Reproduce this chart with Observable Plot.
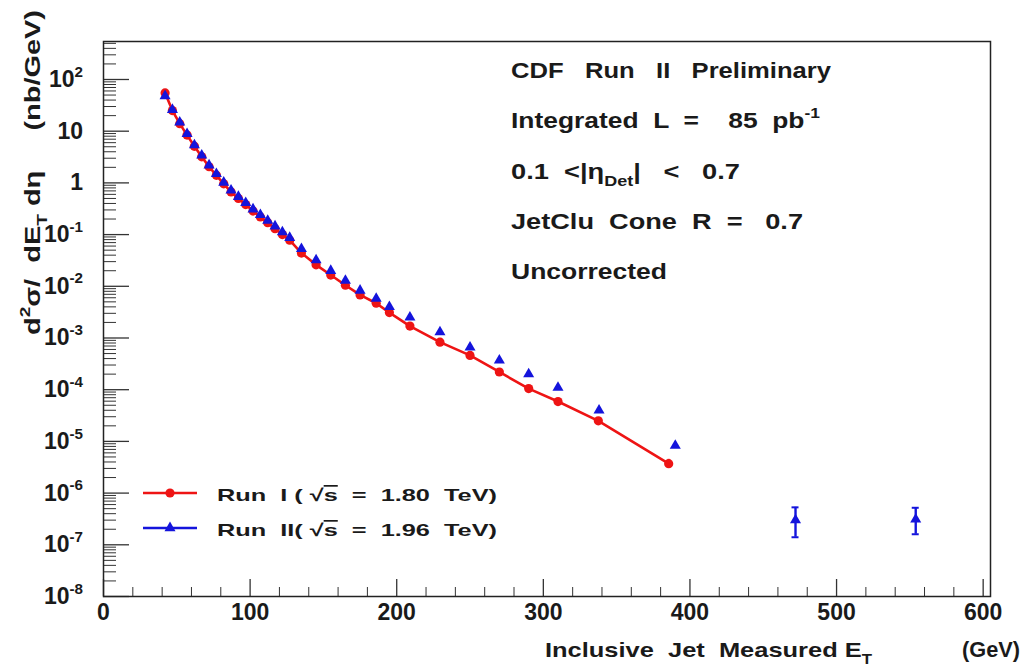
<!DOCTYPE html>
<html>
<head>
<meta charset="utf-8">
<script src="https://cdn.jsdelivr.net/npm/d3@7"></script>
<script src="https://cdn.jsdelivr.net/npm/@observablehq/plot@0.6"></script>
<style>
  html, body { margin: 0; padding: 0; background: #fff; }
  #chart { width: 1022px; height: 667px; }
  svg text { font-family: "Liberation Sans", Arial, Helvetica, sans-serif; font-weight: bold; fill: #1a1a1a; }
</style>
</head>
<body>
<div id="chart"></div>
<script>
// Inclusive jet cross section, CDF Run II (1.96 TeV) compared with Run I (1.80 TeV)

// Run II points: jet ET (GeV) and d2sigma/dET deta (nb/GeV)
const run2Et = [42, 47, 52, 57, 62, 67, 72, 77, 82, 87, 92, 97, 102, 107, 112, 117, 122, 127,
                135, 145, 155, 165, 175, 186, 195, 209, 229.5, 250, 270, 290, 310, 338, 390, 472, 554];
const run2Xs = [48, 26, 14.8, 8.9, 5.4, 3.4, 2.2, 1.5, 1.02, 0.72, 0.54, 0.41, 0.31, 0.24, 0.186, 0.145, 0.112, 0.087,
                0.053, 0.032, 0.020, 0.0129, 0.0083, 0.0058, 0.0040, 0.0025, 1.3e-3, 6.6e-4, 3.7e-4, 2.0e-4, 1.1e-4, 4.0e-5, 8.3e-6, 3.0e-7, 3.1e-7];
// Run II error bars shown on the last bins
const run2ErrEt = [472, 554];
const run2ErrLo = [1.4e-7, 1.6e-7];
const run2ErrHi = [5.3e-7, 5.2e-7];

// Run I points
const run1Et = [42, 47, 52, 57, 62, 67, 72, 77, 82, 87, 92, 97, 102, 107, 112, 117, 122, 127,
                135, 145, 155, 165, 175, 186, 195, 209, 229.5, 250, 270, 290, 310, 337.5, 385.5];
const run1Xs = [55, 25, 14, 8.4, 5.1, 3.2, 2.05, 1.4, 0.96, 0.67, 0.50, 0.38, 0.285, 0.22, 0.17, 0.13, 0.10, 0.078,
                0.044, 0.026, 0.0165, 0.0105, 0.0068, 0.0047, 0.0031, 0.0017, 8.3e-4, 4.6e-4, 2.2e-4, 1.05e-4, 5.9e-5, 2.5e-5, 3.7e-6];
const run1ErrEt = [385.5];
const run1ErrLo = [3.0e-6];
const run1ErrHi = [4.5e-6];

// Axis ticks and labels
const xTickValues = [0, 100, 200, 300, 400, 500, 600];
const xTickLabels = ["0", "100", "200", "300", "400", "500", "600"];
const xMinorValues = d3.range(0, 601, 20).filter(v => v % 100 !== 0);
const yTickValues = [1e2, 1e1, 1, 1e-1, 1e-2, 1e-3, 1e-4, 1e-5, 1e-6, 1e-7, 1e-8];
const yTickBase = ["10", "10", "1", "10", "10", "10", "10", "10", "10", "10", "10"];
const yTickExp  = ["2", "", "", "-1", "-2", "-3", "-4", "-5", "-6", "-7", "-8"];
const yMaxValue = 543;
const yMinorValues = d3.range(-8, 3).flatMap(e => d3.range(2, 10).map(k => k * Math.pow(10, e))).filter(v => v < yMaxValue);

const RED = "#ee1414";
const BLUE = "#1414dc";

const W = 1022, H = 667;
const mL = 103, mR = 32, mT = 41, mB = 71;
const fw = W - mL - mR, fh = H - mT - mB;

const run2 = run2Et.map((et, i) => ({et, xs: run2Xs[i]}));
const run1 = run1Et.map((et, i) => ({et, xs: run1Xs[i]}));
const run2Err = run2ErrEt.map((et, i) => ({et, lo: run2ErrLo[i], hi: run2ErrHi[i]}));
const run1Err = run1ErrEt.map((et, i) => ({et, lo: run1ErrLo[i], hi: run1ErrHi[i]}));
const run2Caps = run2Err.flatMap(d => [{et: d.et, y: d.lo}, {et: d.et, y: d.hi}]);

const plot = Plot.plot({
  width: W, height: H,
  marginLeft: mL, marginRight: mR, marginTop: mT, marginBottom: mB,
  style: {background: "#fff", overflow: "visible"},
  x: {domain: [0, 605], axis: null},
  y: {type: "log", domain: [1e-8, yMaxValue], axis: null},
  marks: [
    Plot.tickY(yMinorValues, {y: d => d, insetRight: fw - 13, stroke: "#333", strokeWidth: 1}),
    Plot.tickY(yTickValues, {y: d => d, insetRight: fw - 26, stroke: "#333", strokeWidth: 1.3}),
    Plot.tickX(xMinorValues, {x: d => d, insetTop: fh - 9, stroke: "#333", strokeWidth: 1}),
    Plot.tickX(xTickValues, {x: d => d, insetTop: fh - 17, stroke: "#333", strokeWidth: 1.3}),
    Plot.text(xTickValues, {x: d => d, text: (d, i) => xTickLabels[i], frameAnchor: "bottom", dy: 23,
                            fontSize: 23, fontWeight: "bold", fill: "#1a1a1a"}),
    Plot.line(run1, {x: "et", y: "xs", stroke: RED, strokeWidth: 2.6}),
    Plot.ruleX(run1Err, {x: "et", y1: "lo", y2: "hi", stroke: RED, strokeWidth: 2.2}),
    Plot.dot(run1, {x: "et", y: "xs", r: 4.6, fill: RED}),
    Plot.ruleX(run2Err, {x: "et", y1: "lo", y2: "hi", stroke: BLUE, strokeWidth: 2.4}),
    Plot.ruleY(run2Caps, {y: "y", x1: "et", x2: "et", insetLeft: -3.5, insetRight: -3.5, stroke: BLUE, strokeWidth: 2}),
    Plot.dot(run2, {x: "et", y: "xs", symbol: "triangle", r: 4.1, fill: BLUE}),
    Plot.frame({stroke: "#222", strokeWidth: 1.5})
  ]
});
document.getElementById("chart").appendChild(plot);

const svg = d3.select(plot);
const yS = plot.scale("y");
const g = svg.append("g");

// Text with superscript / subscript pieces, optionally stretched to a given width
function rich(parent, x, y, parts, {size = 22, anchor = "start", length = null, transform = null} = {}) {
  const t = parent.append("text")
    .attr("x", x).attr("y", y)
    .attr("font-size", size)
    .attr("text-anchor", anchor)
    .style("white-space", "pre");
  if (transform) t.attr("transform", transform);
  let shift = 0;
  for (const p of parts) {
    const [s, kind] = typeof p === "string" ? [p, null] : p;
    const target = kind === "sup" ? -0.45 * size : kind === "sub" ? 0.32 * size : 0;
    const ts = t.append("tspan").text(s).attr("dy", target - shift);
    if (kind === "sup" || kind === "sub") ts.attr("font-size", size * 0.66);
    if (kind === "over") ts.style("text-decoration", "overline");
    shift = target;
  }
  if (length) t.attr("textLength", length).attr("lengthAdjust", "spacingAndGlyphs");
  return t;
}

// Y tick labels
yTickValues.forEach((v, i) => {
  const parts = [yTickBase[i]];
  if (yTickExp[i]) parts.push([yTickExp[i], "sup"]);
  rich(g, mL - 20, yS.apply(v) + 8, parts, {size: 23, anchor: "end"});
});

// Axis titles
rich(g, 0, 0, ["d", ["2", "sup"], "σ/  dE", ["T", "sub"], " dη     (nb/GeV)"],
     {size: 22, length: 325, transform: "translate(40,335) rotate(-90)"});
rich(g, 545, 657, ["Inclusive  Jet  Measured E", ["T", "sub"]], {size: 21, length: 327});
rich(g, 962, 657, ["(GeV)"], {size: 22, length: 58});

// Run information block
rich(g, 511, 78, ["CDF   Run   II   Preliminary"], {size: 22, length: 320});
rich(g, 511, 128, ["Integrated  L  =    85  pb", ["-1", "sup"]], {size: 22, length: 309});
rich(g, 511, 179, ["0.1  <|η", ["Det", "sub"], "|   <   0.7"], {size: 22, length: 229});
rich(g, 511, 229, ["JetClu  Cone  R  =   0.7"], {size: 22, length: 292});
rich(g, 511, 279, ["Uncorrected"], {size: 22, length: 156});

// Legend
const legend = [
  {y: 493, color: RED, symbol: d3.symbolCircle, size: Math.PI * 4.6 * 4.6, label: ["Run  I ( √", ["s", "over"], "  =  1.80  TeV)"]},
  {y: 528, color: BLUE, symbol: d3.symbolTriangle, size: Math.PI * 4.1 * 4.1, label: ["Run  II( √", ["s", "over"], "  =  1.96  TeV)"]}
];
legend.forEach(d => {
  g.append("line").attr("x1", 143).attr("x2", 197).attr("y1", d.y).attr("y2", d.y)
    .attr("stroke", d.color).attr("stroke-width", 2.6);
  g.append("path").attr("d", d3.symbol(d.symbol, d.size)()).attr("transform", `translate(170,${d.y})`)
    .attr("fill", d.color);
  rich(g, 217, d.y + 8, d.label, {size: 17, length: 280});
});
</script>
</body>
</html>
